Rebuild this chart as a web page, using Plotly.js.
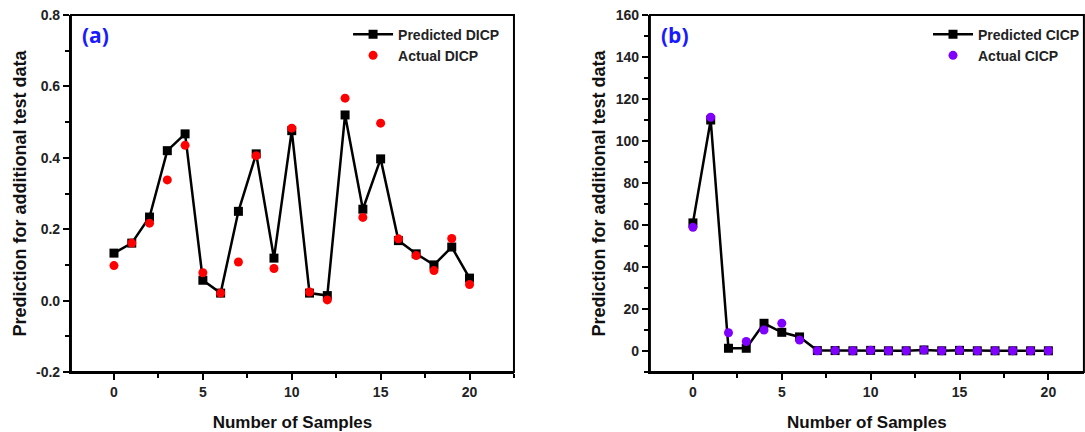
<!DOCTYPE html>
<html><head><meta charset="utf-8">
<script src="https://cdn.plot.ly/plotly-3.0.1.min.js"></script>
<style>body{margin:0;background:#fff}#c{width:1085px;height:432px}</style>
</head><body><div id="c"></div>
<script>
const samples = [0,1,2,3,4,5,6,7,8,9,10,11,12,13,14,15,16,17,18,19,20];
const predictedDICP = [0.133,0.161,0.234,0.420,0.467,0.057,0.021,0.250,0.411,0.119,0.476,0.021,0.014,0.520,0.256,0.397,0.168,0.131,0.100,0.150,0.063];
const actualDICP    = [0.098,0.161,0.217,0.338,0.435,0.078,0.021,0.108,0.406,0.090,0.483,0.024,0.002,0.567,0.233,0.497,0.173,0.126,0.084,0.174,0.045];
const predictedCICP = [61,110,1.3,1.3,13.2,8.9,6.7,0.2,0.2,0.1,0.3,0.1,0.1,0.5,0.1,0.3,0.1,0.1,0.1,0.1,0.1];
const actualCICP    = [58.9,111.3,8.7,4.5,10.0,13.2,5.2,0.1,0.2,0.1,0.3,0.1,0.1,0.5,0.1,0.3,0.1,0.1,0.1,0.1,0.1];
const xTicks = [0,5,10,15,20];
const yTicksA = ['-0.2','0.0','0.2','0.4','0.6','0.8'];
const yTicksB = [0,20,40,60,80,100,120,140,160];

const FONT = 'Liberation Sans, Arial, sans-serif';
const traces = [
  {x:samples,y:predictedDICP,type:'scatter',mode:'lines+markers',name:'Predicted DICP',
   line:{color:'#000',width:2.5},marker:{symbol:'square',size:9,color:'#000'},xaxis:'x',yaxis:'y',legend:'legend'},
  {x:samples,y:actualDICP,type:'scatter',mode:'markers',name:'Actual DICP',
   marker:{symbol:'circle',size:9,color:'#ff0000'},xaxis:'x',yaxis:'y',legend:'legend'},
  {x:samples,y:predictedCICP,type:'scatter',mode:'lines+markers',name:'Predicted CICP',
   line:{color:'#000',width:2.5},marker:{symbol:'square',size:9,color:'#000'},xaxis:'x2',yaxis:'y2',legend:'legend2'},
  {x:samples,y:actualCICP,type:'scatter',mode:'markers',name:'Actual CICP',
   marker:{symbol:'circle',size:9,color:'#8000ff'},xaxis:'x2',yaxis:'y2',legend:'legend2'}
];

const axBase = {showline:true,linecolor:'#000',linewidth:2,mirror:false,ticks:'outside',ticklen:6,tickwidth:2,
  tickcolor:'#000',showgrid:false,zeroline:false,tickfont:{family:FONT,size:14,color:'#222'}};
const xt = {text:'<b>Number of Samples</b>',font:{family:FONT,size:17,color:'#111'},standoff:19};
const yt = {text:'<b>Prediction for additional test data</b>',font:{family:FONT,size:18,color:'#111'},standoff:5};
const minorX = {dtick:2.5,tick0:0,ticks:'outside',ticklen:4,tickwidth:2,tickcolor:'#000'};
const bold = v => '<b>'+v+'</b>';

const box = (xr,yr) => ({type:'rect',xref:xr+' domain',yref:yr+' domain',x0:0,x1:1,y0:0,y1:1,
  line:{color:'#000',width:2},fillcolor:'rgba(0,0,0,0)',layer:'above'});

const layout = {
  width:1085,height:432,margin:{l:0,r:0,t:15,b:60},paper_bgcolor:'#fff',plot_bgcolor:'#fff',
  showlegend:true,
  xaxis:Object.assign({},axBase,{domain:[0.0654,0.4737],range:[-2.42,22.5],tickvals:xTicks,
    ticktext:xTicks.map(bold),minor:minorX,title:xt,anchor:'y'}),
  yaxis:Object.assign({},axBase,{domain:[0,1],range:[-0.2,0.8],tickvals:yTicksA.map(Number),
    ticktext:yTicksA.map(bold),
    minor:{dtick:0.1,tick0:0,ticks:'outside',ticklen:4,tickwidth:2,tickcolor:'#000'},title:yt,anchor:'x'}),
  xaxis2:Object.assign({},axBase,{domain:[0.599,0.999],range:[-2.42,22.0],tickvals:xTicks,
    ticktext:xTicks.map(bold),minor:minorX,title:xt,anchor:'y2'}),
  yaxis2:Object.assign({},axBase,{domain:[0,1],range:[-10,160],tickvals:yTicksB,
    ticktext:yTicksB.map(bold),
    minor:{dtick:10,tick0:0,ticks:'outside',ticklen:4,tickwidth:2,tickcolor:'#000'},title:yt,anchor:'x2'}),
  legend:{x:0.4655,y:0.99,xanchor:'right',yanchor:'top',bgcolor:'rgba(0,0,0,0)',
    font:{family:FONT,size:14,color:'#222',weight:700},tracegroupgap:0,itemwidth:40},
  legend2:{x:1.0,y:0.99,xanchor:'right',yanchor:'top',bgcolor:'rgba(0,0,0,0)',
    font:{family:FONT,size:14,color:'#222',weight:700},tracegroupgap:0,itemwidth:40},
  shapes:[box('x','y'),box('x2','y2')],
  annotations:[
    {text:'<b>(a)</b>',xref:'x domain',yref:'y domain',x:0.02,y:0.99,xanchor:'left',yanchor:'top',showarrow:false,
     font:{family:'Open Sans',size:21,color:'#1a1aff'}},
    {text:'<b>(b)</b>',xref:'x2 domain',yref:'y2 domain',x:0.02,y:0.99,xanchor:'left',yanchor:'top',showarrow:false,
     font:{family:'Open Sans',size:21,color:'#1a1aff'}}
  ]
};
Plotly.newPlot('c',traces,layout,{displayModeBar:false,staticPlot:true});
</script></body></html>
